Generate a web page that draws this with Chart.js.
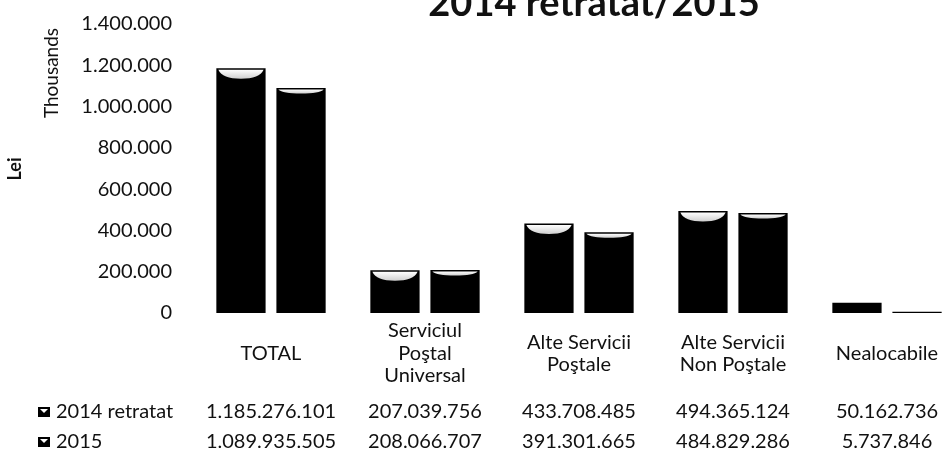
<!DOCTYPE html>
<html lang="ro">
<head>
    <meta charset="UTF-8">
    <title>2014 retratat/2015</title>
    <script src="https://cdn.jsdelivr.net/npm/chart.js"></script>
    <style>
        html, body { margin: 0; padding: 0; background: #fff; overflow: hidden; }
        #wrap { width: 980px; height: 452px; }
    </style>
</head>
<body>
    <div id="wrap">
        <canvas id="venituriChart" width="980" height="452"></canvas>
    </div>

    <script>
        // Date din grafic (lei)
        const categorii = ['TOTAL', ['Serviciul', 'Poştal', 'Universal'], ['Alte Servicii', 'Poştale'], ['Alte Servicii', 'Non Poştale'], 'Nealocabile'];
        const serii = ['2014 retratat', '2015'];
        const valori2014 = [1185276101, 207039756, 433708485, 494365124, 50162736];
        const valori2015 = [1089935505, 208066707, 391301665, 484829286, 5737846];
        const ticksY = [0, 200000, 400000, 600000, 800000, 1000000, 1200000, 1400000];

        const FONT = 'Lato, "Open Sans", sans-serif';
        const TEXT = '#111';

        function fmt(n) {
            return String(Math.round(n)).replace(/\B(?=(\d{3})+(?!\d))/g, '.');
        }

        // grafic in mii de lei
        const mii2014 = valori2014.map(v => v / 1000);
        const mii2015 = valori2015.map(v => v / 1000);

        // texte + tabel de date + reflexe pe bare
        const extras = {
            id: 'extras',
            afterDatasetsDraw(chart) {
                const ctx = chart.ctx;
                chart.data.datasets.forEach((ds, di) => {
                    const meta = chart.getDatasetMeta(di);
                    const h = di === 0 ? 9 : 4;
                    meta.data.forEach(bar => {
                        const w = bar.width;
                        const left = bar.x - w / 2 + 2;
                        const right = bar.x + w / 2 - 2;
                        const top = bar.y + 1.5;
                        if (bar.base - bar.y < h + 4) return;
                        ctx.save();
                        const g = ctx.createLinearGradient(0, top, 0, top + h);
                        g.addColorStop(0, '#ffffff');
                        g.addColorStop(1, '#cfcfcf');
                        ctx.fillStyle = g;
                        ctx.beginPath();
                        ctx.moveTo(left, top);
                        ctx.lineTo(right, top);
                        ctx.quadraticCurveTo(right - 4, top + h, bar.x, top + h);
                        ctx.quadraticCurveTo(left + 4, top + h, left, top);
                        ctx.fill();
                        ctx.restore();
                    });
                });
            },
            afterDraw(chart) {
                const ctx = chart.ctx;
                const x = chart.scales.x;
                ctx.save();
                ctx.fillStyle = TEXT;

                // titlu
                ctx.font = 'bold 38px ' + FONT;
                ctx.textAlign = 'center';
                ctx.textBaseline = 'alphabetic';
                ctx.fillText('2014 retratat/2015', 594, 16);

                // titluri axa Y
                ctx.font = '19px ' + FONT;
                ctx.textBaseline = 'middle';
                ctx.save();
                ctx.translate(52, 73);
                ctx.rotate(-Math.PI / 2);
                ctx.fillText('Thousands', 0, 0);
                ctx.restore();

                ctx.font = 'bold 18px ' + FONT;
                ctx.save();
                ctx.translate(15, 169);
                ctx.rotate(-Math.PI / 2);
                ctx.fillText('Lei', 0, 0);
                ctx.restore();

                // tabel de date
                const randuri = [valori2014, valori2015];
                const yRand = [412, 442];
                ctx.font = '20px ' + FONT;
                randuri.forEach((vals, r) => {
                    // cheie legenda
                    ctx.fillStyle = '#000';
                    ctx.fillRect(38, yRand[r] - 5, 12, 10);
                    ctx.fillStyle = '#fff';
                    ctx.beginPath();
                    ctx.moveTo(40, yRand[r] - 3);
                    ctx.lineTo(48, yRand[r] - 3);
                    ctx.lineTo(44, yRand[r] + 1);
                    ctx.fill();

                    ctx.fillStyle = TEXT;
                    ctx.textAlign = 'left';
                    ctx.fillText(serii[r], 56, yRand[r]);
                    ctx.textAlign = 'center';
                    vals.forEach((v, i) => {
                        ctx.fillText(fmt(v), x.getPixelForValue(i), yRand[r]);
                    });
                });
                ctx.restore();
            }
        };

        new Chart(document.getElementById('venituriChart'), {
            type: 'bar',
            data: {
                labels: categorii,
                datasets: [
                    { label: serii[0], data: mii2014, backgroundColor: '#000', borderWidth: 0 },
                    { label: serii[1], data: mii2015, backgroundColor: '#000', borderWidth: 0 }
                ]
            },
            options: {
                responsive: false,
                animation: false,
                layout: { padding: { top: 24, right: 16, bottom: 0, left: 0 } },
                datasets: {
                    bar: { categoryPercentage: 0.78, barPercentage: 0.82 }
                },
                plugins: {
                    legend: { display: false },
                    tooltip: { enabled: false }
                },
                scales: {
                    x: {
                        grid: { display: false, drawTicks: false },
                        border: { display: false },
                        ticks: {
                            color: TEXT,
                            font: { family: FONT, size: 20, lineHeight: 1.12 },
                            crossAlign: 'center',
                            maxRotation: 0,
                            autoSkip: false,
                            padding: 18
                        },
                        afterFit(scale) { scale.height = 139; }
                    },
                    y: {
                        min: 0,
                        max: ticksY[ticksY.length - 1],
                        grid: { display: false, drawTicks: false },
                        border: { display: false },
                        afterBuildTicks(scale) { scale.ticks = ticksY.map(v => ({ value: v })); },
                        ticks: {
                            color: TEXT,
                            font: { family: FONT, size: 20 },
                            padding: 22,
                            callback: v => fmt(v)
                        },
                        afterFit(scale) {
                            scale.width = 194;
                            scale.paddingTop = 12;
                            scale.paddingBottom = 12;
                        }
                    }
                }
            },
            plugins: [extras]
        });
    </script>
</body>
</html>
